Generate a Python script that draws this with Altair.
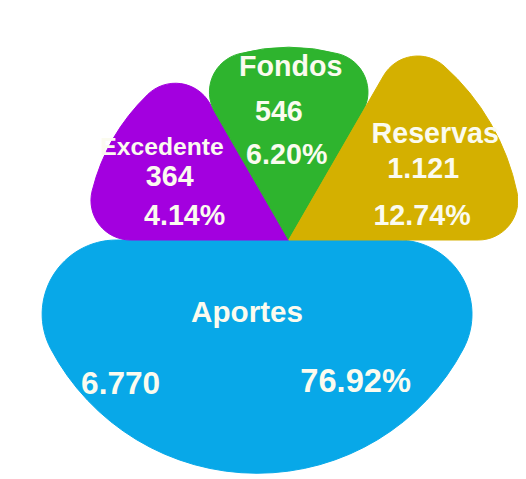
import math
import altair as alt
import pandas as pd

# ---- data -------------------------------------------------------------
categorias = ["Excedente", "Fondos", "Reservas", "Aportes"]
valores = [364, 546, 1121, 6770]
porcentajes = [4.14, 6.20, 12.74, 76.92]

# ---- style / layout (not data) ---------------------------------------
colores = ["#A300DF", "#2EB42E", "#D4B000", "#08A8E8"]
TXT = "#FBFBEF"
FONT = "Liberation Sans"
PESO = {"Excedente": 1, "Fondos": 1, "Reservas": 1, "Aportes": 3}   # share of the flower
RADIO = {"Excedente": 205, "Fondos": 195, "Reservas": 236, "Aportes": 236}
CENTRO_X = {"Excedente": 284, "Fondos": 284, "Reservas": 284, "Aportes": 252}
CY = 232

# label placement: (fraction within the slice, radius, font size)
ETIQ = {
    "nombre": {"Excedente": (0.605, 159, 25), "Fondos": (0.511, 175, 29),
               "Reservas": (0.402, 183, 29), "Aportes": (0.543, 75, 30)},
    "valor": {"Excedente": (0.462, 136, 29), "Fondos": (0.427, 130, 29),
              "Reservas": (0.535, 154, 29), "Aportes": (0.741, 201, 32)},
    "pct": {"Excedente": (0.215, 108, 29), "Fondos": (0.478, 86, 29),
            "Reservas": (0.832, 137, 29), "Aportes": (0.307, 175, 33)},
}
TEXTO = {
    "nombre": "datum.categoria",
    "valor": "replace(format(datum.valor, ','), ',', '.')",
    "pct": "format(datum.porcentaje, '.2f') + '%'",
}

nombres = ",".join(f"'{c}'" for c in categorias)


def lookup(vals):
    arr = ",".join(str(v) for v in vals)
    return f"[{arr}][indexof([{nombres}], datum.categoria)]"


df = pd.DataFrame({"categoria": categorias, "valor": valores, "porcentaje": porcentajes})

total = sum(PESO.values())
theta_scale = alt.Scale(domain=[0, total], range=[-math.pi / 2, 3 * math.pi / 2])

base = (
    alt.Chart(df)
    .transform_calculate(
        peso=lookup([PESO[c] for c in categorias]),
        orden=f"indexof([{nombres}], datum.categoria)",
        cx=lookup([CENTRO_X[c] for c in categorias]),
        radio=lookup([RADIO[c] for c in categorias]),
    )
    .transform_window(fin="sum(peso)", sort=[alt.SortField("orden")], frame=[None, 0])
    .transform_calculate(inicio="datum.fin - datum.peso")
)

color_scale = alt.Scale(domain=categorias, range=colores)

arc_enc = dict(
    theta=alt.Theta("inicio:Q", scale=theta_scale, stack=None),
    theta2=alt.Theta2("fin:Q"),
    radius=alt.Radius("radio:Q", scale=None),
    color=alt.Color("categoria:N", scale=color_scale, legend=None),
    stroke=alt.Stroke("categoria:N", scale=color_scale, legend=None),
    x=alt.X("cx:Q", scale=None, stack=None),
    y=alt.value(CY),
)

petalos = (
    base.transform_filter("datum.categoria != 'Aportes'")
    .mark_arc(cornerRadius=40, strokeWidth=1)
    .encode(**arc_enc)
)
fondo = (
    base.transform_filter("datum.categoria == 'Aportes'")
    .mark_arc(cornerRadius=75, strokeWidth=1)
    .encode(**arc_enc)
)

capas = [fondo, petalos]
for linea, expr in TEXTO.items():
    d = ETIQ[linea]
    capa = (
        base.transform_calculate(
            frac=lookup([d[c][0] for c in categorias]),
            r=lookup([d[c][1] for c in categorias]),
            fs=lookup([d[c][2] for c in categorias]),
            texto=expr,
        )
        .transform_calculate(ang="datum.inicio + datum.frac * datum.peso")
        .mark_text(font=FONT, fontWeight="bold", color=TXT, align="center", baseline="middle")
        .encode(
            theta=alt.Theta("ang:Q", scale=theta_scale, stack=None),
            radius=alt.Radius("r:Q", scale=None),
            text=alt.Text("texto:N"),
            size=alt.Size("fs:Q", scale=None, legend=None),
            x=alt.X("cx:Q", scale=None, stack=None),
            y=alt.value(CY),
        )
    )
    capas.append(capa)

chart = (
    alt.layer(*capas)
    .properties(width=516, height=466, padding=0, autosize=alt.AutoSizeParams(type="none"))
    .configure_view(stroke=None)
)

chart.save("out.html", embed_options={"renderer": "svg", "actions": False})
